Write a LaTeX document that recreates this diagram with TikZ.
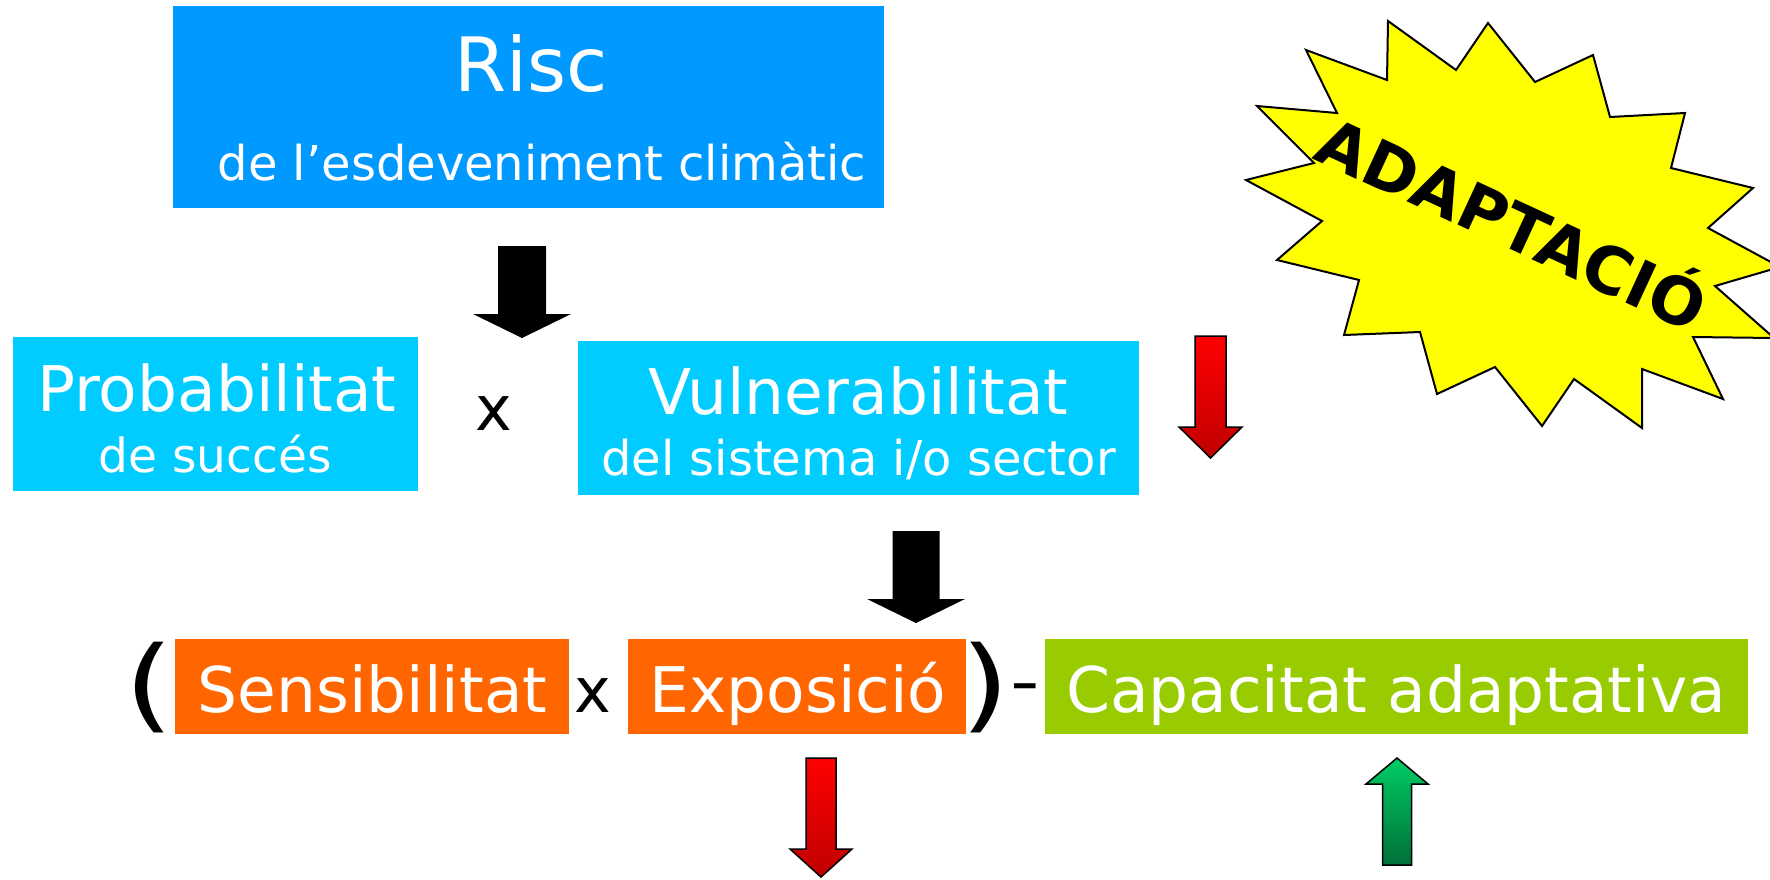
\documentclass[tikz,border=0pt]{standalone}
\usepackage{fontspec}
\setmainfont{DejaVu Sans}
\usetikzlibrary{fit}
\definecolor{riscblue}{HTML}{0099FF}
\definecolor{lightblue}{HTML}{00CCFF}
\definecolor{orangebox}{HTML}{FF6600}
\definecolor{greenbox}{HTML}{99CC00}
\definecolor{starfill}{HTML}{FFFF00}
\definecolor{arrowred}{HTML}{FF0000}
\definecolor{arrowdarkred}{HTML}{BF0000}
\definecolor{arrowgreen}{HTML}{00CC66}
\definecolor{arrowdarkgreen}{HTML}{007038}
\newcommand{\pxfont}[1]{\fontsize{#1pt}{#1pt}\selectfont}
% cx, top end, shaft half width, head half width, head base, tip, style
\newcommand{\blkarrow}[7]{%
  \path[#7] (#1-#3,#2) -- (#1+#3,#2) -- (#1+#3,#5) -- (#1+#4,#5) -- (#1,#6)
    -- (#1-#4,#5) -- (#1-#3,#5) -- cycle;}
\begin{document}
\begin{tikzpicture}[x=0.5pt,y=-0.5pt,
  boxshape/.style={inner sep=0pt, outer sep=0pt, draw=none},
  wtext/.style={anchor=base, text=white, inner sep=0pt},
  btext/.style={anchor=base, text=black, inner sep=0pt},
  blackarrow/.style={fill=black},
  redarrow/.style={draw=black, line width=0.75pt, line join=miter, top color=arrowred, bottom color=arrowdarkred},
  greenarrow/.style={draw=black, line width=0.75pt, line join=miter, top color=arrowgreen, bottom color=arrowdarkgreen},
  burst/.style={draw=black, fill=starfill, line width=1pt, line join=miter}
]
\useasboundingbox (0,0) rectangle (1770,879);

% boxes
\node[boxshape, fill=riscblue, fit={(173,6) (884,208)}] (risc) {};
\node[boxshape, fill=lightblue, fit={(13,337) (418,491)}] (prob) {};
\node[boxshape, fill=lightblue, fit={(578,341) (1139,495)}] (vuln) {};
\node[boxshape, fill=orangebox, fit={(175,639) (569,734)}] (sens) {};
\node[boxshape, fill=orangebox, fit={(628,639) (966,734)}] (expo) {};
\node[boxshape, fill=greenbox, fit={(1045,639) (1748,734)}] (capa) {};

% texts
\node[wtext, font=\pxfont{37.5}] (risct) at (531,91) {Risc};
\node[wtext, font=\pxfont{24}] (risct2) at (542,180) {de l’esdeveniment climàtic};
\node[wtext, font=\pxfont{31.5}] (probt) at (217,411) {Probabilitat};
\node[wtext, font=\pxfont{23.5}] (probt2) at (215,472) {de succés};
\node[btext, font=\pxfont{31}] (times1) at (494,430) {x};
\node[wtext, font=\pxfont{31.5}] (vulnt) at (858.5,414) {Vulnerabilitat};
\node[wtext, font=\pxfont{24}] (vulnt2) at (858.5,475) {del sistema i/o sector};
\node[btext, font=\pxfont{51}] (lpar) at (149,719.5) {\scalebox{1.25}[1]{(}};
\node[wtext, font=\pxfont{31.5}] (senst) at (372.5,712.5) {Sensibilitat};
\node[btext, font=\pxfont{31}] (times2) at (593,712.5) {x};
\node[wtext, font=\pxfont{31.5}] (expot) at (798,712.5) {Exposició};
\node[btext, font=\pxfont{51}] (rpar) at (985,719.5) {\scalebox{1.25}[1]{)}};
\node[btext, font=\pxfont{31.5}] (minus) at (1025,703) {\scalebox{1.3}[1]{-}};
\node[wtext, font=\pxfont{31.5}] (capat) at (1396,712.5) {Capacitat adaptativa};

% block arrows
\blkarrow{522}{246}{24}{49}{314}{338}{blackarrow}
\blkarrow{916}{531}{23.5}{49}{599}{623}{blackarrow}
\blkarrow{1210.5}{336}{15.5}{31.5}{427}{458}{redarrow}
\blkarrow{821}{758}{15}{31}{849}{877}{redarrow}
\blkarrow{1397}{865}{14.5}{31}{784}{758}{greenarrow}

% starburst
\begin{scope}
\clip (0,0) rectangle (1770,879);
\path[burst] (1388,21) -- (1456,70) -- (1488,23) -- (1535,82) -- (1593,55) -- (1610,117)
  -- (1685,113) -- (1671,168) -- (1753,188) -- (1708,228) -- (1780,267)
  -- (1715,286) -- (1774,338) -- (1693,337) -- (1723,399) -- (1642,369)
  -- (1642,428) -- (1574,379) -- (1542,426) -- (1495,367) -- (1437,394)
  -- (1420,332) -- (1344,335) -- (1359,280) -- (1277,260) -- (1322,221)
  -- (1246,180) -- (1314,163) -- (1257,106) -- (1337,113) -- (1306,50)
  -- (1387,80) -- cycle;
\end{scope}
\node[btext, font=\pxfont{32.5}\bfseries, rotate=-24.8] (adapt) at (1502,246) {ADAPTACIÓ};
\end{tikzpicture}
\end{document}
